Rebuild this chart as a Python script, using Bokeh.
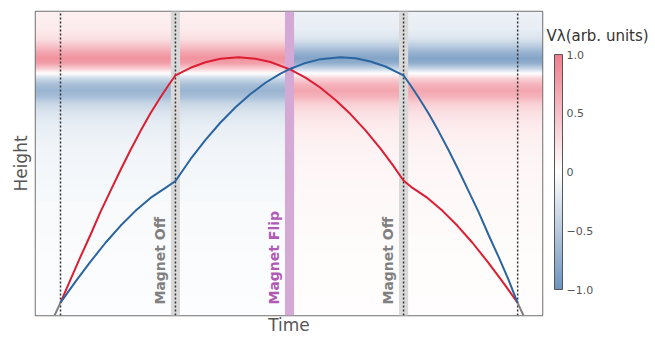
import numpy as np
from math import pi
from bokeh.plotting import figure
from bokeh.models import ColorBar, LinearColorMapper, FixedTicker, LinearAxis
from bokeh.core.properties import value
from bokeh.embed import file_html
from bokeh.resources import INLINE

# ---------------- data ----------------
edge_time = [4.93, 95.1]          # dotted start / end lines
off_time = [27.6, 72.6]           # "Magnet Off" moments
flip_time = [50.1]                # "Magnet Flip" moment
band_width = 1.8

red_t = [4.93, 6.90, 8.88, 10.85, 12.82, 14.79, 16.77, 18.74, 20.71, 22.68, 24.65, 26.23, 27.61,
         30.57, 33.53, 36.49, 40.04, 43.39, 46.35, 50.30, 53.25, 56.21, 59.17, 62.13, 65.09, 68.05,
         70.41, 72.58, 74.36, 77.32, 80.28, 83.23, 86.19, 89.15, 92.11, 95.07]
red_h = [4.26, 11.80, 19.34, 26.56, 34.10, 40.98, 47.87, 54.43, 60.66, 66.56, 71.80, 75.74, 79.02,
         81.49, 83.30, 84.44, 84.92, 84.49, 83.39, 80.89, 78.24, 74.91, 70.91, 66.25, 60.91, 54.90,
         49.61, 44.39, 41.97, 38.69, 34.43, 29.51, 23.93, 17.70, 11.15, 4.26]

blue_t = [4.93, 7.89, 10.85, 13.81, 16.77, 19.72, 22.68, 25.64, 27.61,
          30.57, 33.53, 36.49, 39.45, 42.41, 45.36, 48.32, 50.30, 53.25, 56.21, 60.16, 63.12, 66.07,
          69.03, 72.58, 73.96, 75.54, 77.51, 79.49, 81.46, 83.43, 85.40, 87.38, 89.35, 91.32, 93.29, 95.07]
blue_h = [4.26, 11.15, 17.70, 23.93, 29.51, 34.43, 38.69, 41.97, 44.26,
          51.41, 57.80, 63.48, 68.49, 72.85, 76.56, 79.57, 81.18, 83.08, 84.33, 84.92, 84.59, 83.57,
          81.90, 79.02, 75.74, 71.80, 66.56, 60.66, 54.43, 47.87, 40.98, 34.10, 26.56, 19.34, 11.80, 4.26]

gray_left_t = [3.75, 4.93]
gray_left_h = [0.0, 4.26]
gray_right_t = [95.07, 96.25]
gray_right_h = [4.26, 0.0]

# vertical profile of V_lambda before the flip (after the flip it is reversed in sign)
bg_height = [0, 20, 35, 45, 55, 62, 67, 70, 72, 74, 76, 78, 79.7, 81.3, 83, 84.6, 86.6, 88.9, 91, 94, 100]
bg_value = [-0.02, -0.03, -0.05, -0.07, -0.1, -0.15, -0.25, -0.4, -0.6, -0.7, -0.6, -0.35, 0.0,
            0.4, 0.75, 0.85, 0.7, 0.45, 0.25, 0.16, 0.12]

cbar_ticks = [-1, -0.5, 0, 0.5, 1]
cbar_labels = ["\u22121.0", "\u22120.5", "0", "0.5", "1.0"]
cbar_title = "V\u03bb(arb. units)"
cbar_title_h = 92                 # height at which the colour-bar title sits

off_label = ["Magnet Off", "Magnet Off"]
flip_label = ["Magnet Flip"]

# ---------------- palette ----------------
blue_end = np.array([110, 148, 190])
white = np.array([255, 255, 255])
red_end = np.array([238, 128, 142])
palette = []
for f in np.linspace(-1, 1, 256):
    c = white + (red_end - white) * f if f >= 0 else white + (blue_end - white) * (-f)
    palette.append("#%02x%02x%02x" % tuple(int(round(v)) for v in c))
mapper = LinearColorMapper(palette=palette, low=-1, high=1)

FONT = "DejaVu Sans"

p = figure(width=655, height=337, x_range=(0, 100), y_range=(0, 100),
           toolbar_location=None, output_backend="svg",
           min_border_left=35, min_border_right=113, min_border_top=11, min_border_bottom=21)
p.grid.visible = False
p.outline_line_color = "#707070"
p.outline_line_width = 1.5
p.background_fill_color = "white"

for ax, lab in ((p.xaxis, "Time"), (p.yaxis, "Height")):
    ax.ticker = FixedTicker(ticks=[])
    ax.axis_line_color = None
    ax.major_tick_line_color = None
    ax.minor_tick_line_color = None
    ax.major_tick_out = 0
    ax.major_tick_in = 0
    ax.major_label_standoff = 0
    ax.major_label_text_font_size = "0px"
    ax.axis_label = lab
    ax.axis_label_text_font = FONT
    ax.axis_label_text_font_size = "17px"
    ax.axis_label_text_font_style = "normal"
    ax.axis_label_text_color = "#555555"
p.xaxis.axis_label_standoff = -1
p.yaxis.axis_label_standoff = 5

# background field
hh = np.linspace(0, 100, 610)
prof = np.interp(hh, bg_height, bg_value)
left_img = prof[:, None]
right_img = -prof[:, None]
p.image(image=[left_img], x=0, y=0, dw=flip_time[0], dh=100, color_mapper=mapper)
p.image(image=[right_img], x=flip_time[0], y=0, dw=100 - flip_time[0], dh=100, color_mapper=mapper)

# bands
p.vbar(x=off_time, width=band_width, bottom=0, top=100, fill_color="#d9d9d9", line_color=None)
p.vbar(x=flip_time, width=band_width, bottom=0, top=100, fill_color="#d5a9d5", line_color=None)

# dotted lines
dot_t = edge_time + off_time
p.segment(x0=dot_t, y0=[0] * len(dot_t), x1=dot_t, y1=[100] * len(dot_t),
          line_color="#333333", line_width=1.5, line_dash="2 2")

# texts
p.text(x=[26.1, 71.2], y=[3.6, 3.6], text=off_label, angle=pi / 2,
       text_align="left", text_baseline="bottom", text_font=value(FONT),
       text_font_style="bold", text_font_size="14px", text_color="#808080")
p.text(x=[48.7], y=[3.6], text=flip_label, angle=pi / 2,
       text_align="left", text_baseline="bottom", text_font=value(FONT),
       text_font_style="bold", text_font_size="14px", text_color="#b05ab4")

# trajectories
p.line(gray_left_t, gray_left_h, line_color="#808080", line_width=2)
p.line(gray_right_t, gray_right_h, line_color="#808080", line_width=2)
p.line(red_t, red_h, line_color="#dc1e32", line_width=2)
p.line(blue_t, blue_h, line_color="#2b65a0", line_width=2)

# colour bar
cb = ColorBar(color_mapper=mapper, ticker=FixedTicker(ticks=cbar_ticks),
              major_label_overrides={t: l for t, l in zip(cbar_ticks, cbar_labels)},
              width=8, height=235, location=(12, 26), margin=0, padding=0,
              bar_line_color="#555555", bar_line_width=1,
              major_tick_line_color=None, minor_tick_line_color=None,
              major_label_text_font=FONT, major_label_text_font_size="11px",
              major_label_text_color="#555555", label_standoff=4,
              background_fill_color=None, border_line_color=None)
p.add_layout(cb, "right")

# colour-bar title, written as the single label of an extra right-hand axis
title_axis = LinearAxis(ticker=FixedTicker(ticks=[cbar_title_h]),
                        major_label_overrides={cbar_title_h: cbar_title},
                        major_label_standoff=-50, major_tick_out=0, major_tick_in=0,
                        axis_line_color=None, major_tick_line_color=None,
                        minor_tick_line_color=None,
                        major_label_text_font=FONT, major_label_text_font_size="15px",
                        major_label_text_color="#333333")
p.add_layout(title_axis, "right")

open("out.html", "w").write(file_html(p, INLINE))
